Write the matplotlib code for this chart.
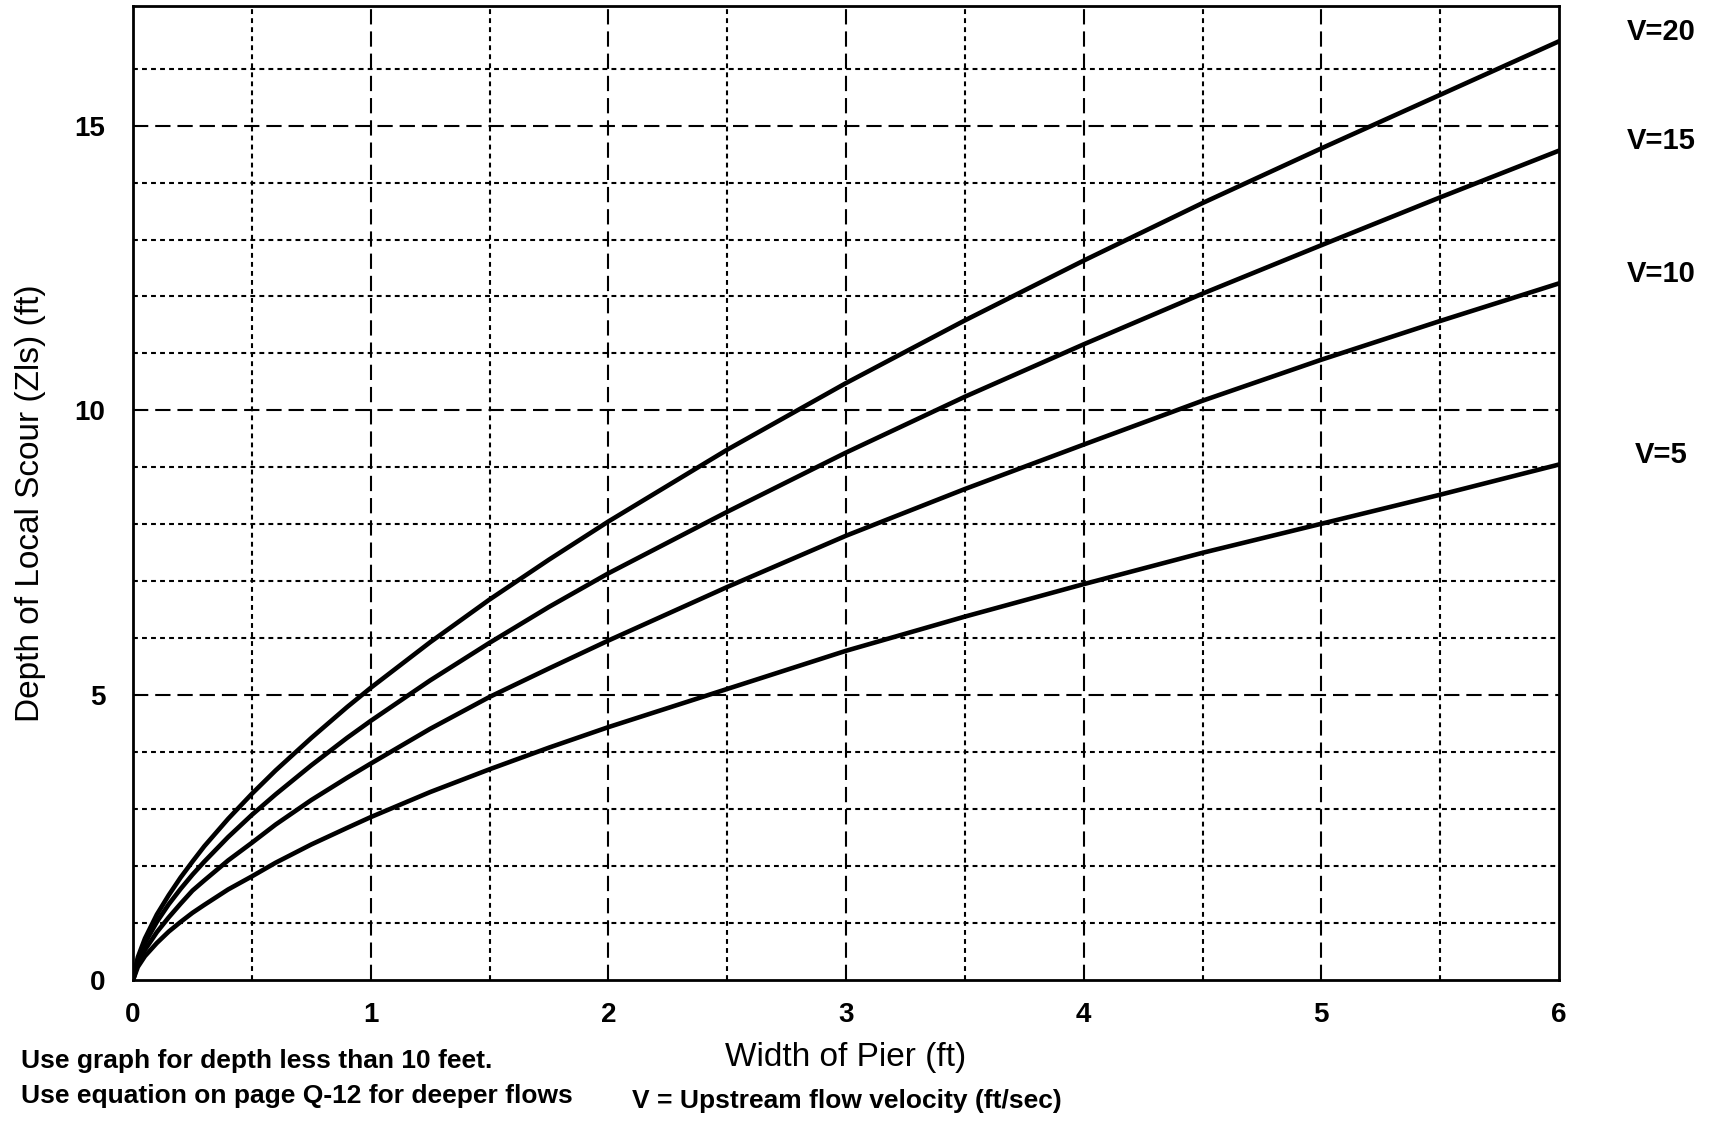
import matplotlib
matplotlib.use('Agg')
import matplotlib.pyplot as plt

# Depth of local scour vs pier width

width = [0, 0.02, 0.05, 0.1, 0.15, 0.2, 0.25, 0.3, 0.4, 0.5, 0.6, 0.75, 0.9, 1,
         1.25, 1.5, 1.75, 2, 2.5, 3, 3.5, 4, 4.5, 5, 5.5, 6]

scour_v20 = [0, 0.40, 0.73, 1.15, 1.49, 1.80, 2.08, 2.35, 2.83, 3.27, 3.68, 4.25, 4.79, 5.13,
             5.93, 6.68, 7.38, 8.05, 9.31, 10.48, 11.58, 12.63, 13.64, 14.60, 15.54, 16.48]
scour_v15 = [0, 0.36, 0.65, 1.02, 1.33, 1.60, 1.85, 2.08, 2.51, 2.90, 3.26, 3.77, 4.25, 4.55,
             5.26, 5.92, 6.55, 7.14, 8.22, 9.26, 10.24, 11.16, 12.05, 12.90, 13.74, 14.56]
scour_v10 = [0, 0.29, 0.53, 0.84, 1.10, 1.34, 1.57, 1.75, 2.10, 2.41, 2.73, 3.16, 3.55, 3.80,
             4.41, 4.97, 5.47, 5.96, 6.90, 7.80, 8.62, 9.40, 10.17, 10.89, 11.57, 12.23]
scour_v5 = [0, 0.23, 0.42, 0.65, 0.85, 1.02, 1.18, 1.32, 1.59, 1.82, 2.06, 2.38, 2.67, 2.86,
            3.30, 3.70, 4.08, 4.44, 5.11, 5.78, 6.38, 6.95, 7.50, 8.01, 8.52, 9.05]

curves = [scour_v20, scour_v15, scour_v10, scour_v5]
curve_names = ['V=20', 'V=15', 'V=10', 'V=5']

x_ticks = [0, 1, 2, 3, 4, 5, 6]
y_ticks = [0, 5, 10, 15]

plt.rcParams['font.family'] = ['Liberation Sans', 'DejaVu Sans']
plt.rcParams['lines.scale_dashes'] = False

fig = plt.figure(figsize=(17.17, 11.23), dpi=100)
ax = fig.add_axes([0.0775, 0.1273, 0.8305, 0.8674])

ax.set_xlim(0, 6)
ax.set_ylim(0, 17.1)

# grid: whole numbers long dashes, halves short dashes
for i in range(1, 12):
    gx = i * 0.5
    if i % 2 == 0:
        ax.axvline(gx, color='black', lw=1.5, dashes=(11, 5), zorder=1)
    else:
        ax.axvline(gx, color='black', lw=1.5, dashes=(3.5, 3), zorder=1)
for gy in range(1, 17):
    if gy % 5 == 0:
        ax.axhline(gy, color='black', lw=1.5, dashes=(11, 5), zorder=1)
    else:
        ax.axhline(gy, color='black', lw=1.5, dashes=(3.5, 3), zorder=1)

for vals, name in zip(curves, curve_names):
    ax.plot(width, vals, color='black', lw=3.3, solid_capstyle='round',
            solid_joinstyle='round', zorder=3)
    ax.text(6.43, vals[-1] + 0.17, name, fontsize=21, fontweight='bold',
            ha='center', va='center', clip_on=False)

for s in ax.spines.values():
    s.set_linewidth(2)

ax.set_xticks(x_ticks)
ax.set_yticks(y_ticks)
ax.tick_params(length=0, labelsize=20, pad=16)
ax.tick_params(axis='y', pad=20)
for lab in ax.get_xticklabels() + ax.get_yticklabels():
    lab.set_fontweight('bold')

ax.set_xlabel('Width of Pier (ft)', fontsize=24, labelpad=10)
ax.set_ylabel('Depth of Local Scour (Zls) (ft)', fontsize=24, labelpad=16)
ax.yaxis.set_label_coords(-0.061, 0.49)

fig.text(0.012, 0.055, 'Use graph for depth less than 10 feet.', fontsize=19,
         fontweight='bold', va='center')
fig.text(0.012, 0.024, 'Use equation on page Q-12 for deeper flows', fontsize=19,
         fontweight='bold', va='center')
fig.text(0.368, 0.020, 'V = Upstream flow velocity (ft/sec)', fontsize=19,
         fontweight='bold', va='center')

plt.savefig('out.png', dpi=100)
